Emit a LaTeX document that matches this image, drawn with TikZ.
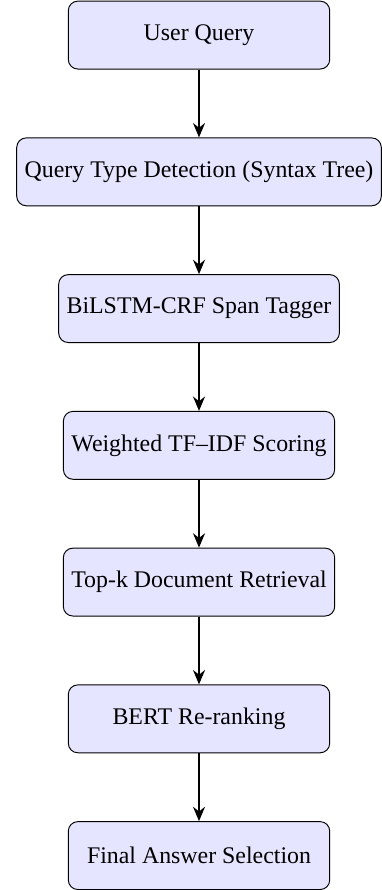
\documentclass[tikz,border=0pt]{standalone}
\usepackage{fontspec}
\setmainfont{Liberation Serif}
\usetikzlibrary{positioning,arrows.meta,calc}
\tikzset{
  stage/.style={draw=black, rounded corners=4pt, fill=blue!10,
    minimum width=3.85cm, minimum height=1cm, align=center, font=\fontsize{10pt}{12pt}\selectfont},
  arr/.style={-{Stealth[length=6pt,width=5pt]}, thick},
}
\begin{document}
\begin{tikzpicture}[node distance=1cm]
    \node[stage] (query) {User Query};
    \node[stage, below=of query] (qtype) {Query Type Detection (Syntax Tree)};
    \node[stage, below=of qtype] (tagger) {BiLSTM-CRF Span Tagger};
    \node[stage, below=of tagger] (tfidf) {Weighted TF--IDF Scoring};
    \node[stage, below=of tfidf] (topk) {Top-k Document Retrieval};
    \node[stage, below=of topk] (rerank) {BERT Re-ranking};
    \node[stage, below=of rerank] (answer) {Final Answer Selection};
    % pipeline arrows
    \foreach \a/\b in {query/qtype, qtype/tagger, tagger/tfidf, tfidf/topk, topk/rerank, rerank/answer}
      \draw[arr] (\a) -- (\b);
    \useasboundingbox ($(query.center)+(-83.4pt,14.7pt)$) rectangle ($(query.center)+(75.5pt,-354.6pt)$);
  \end{tikzpicture}
\end{document}
